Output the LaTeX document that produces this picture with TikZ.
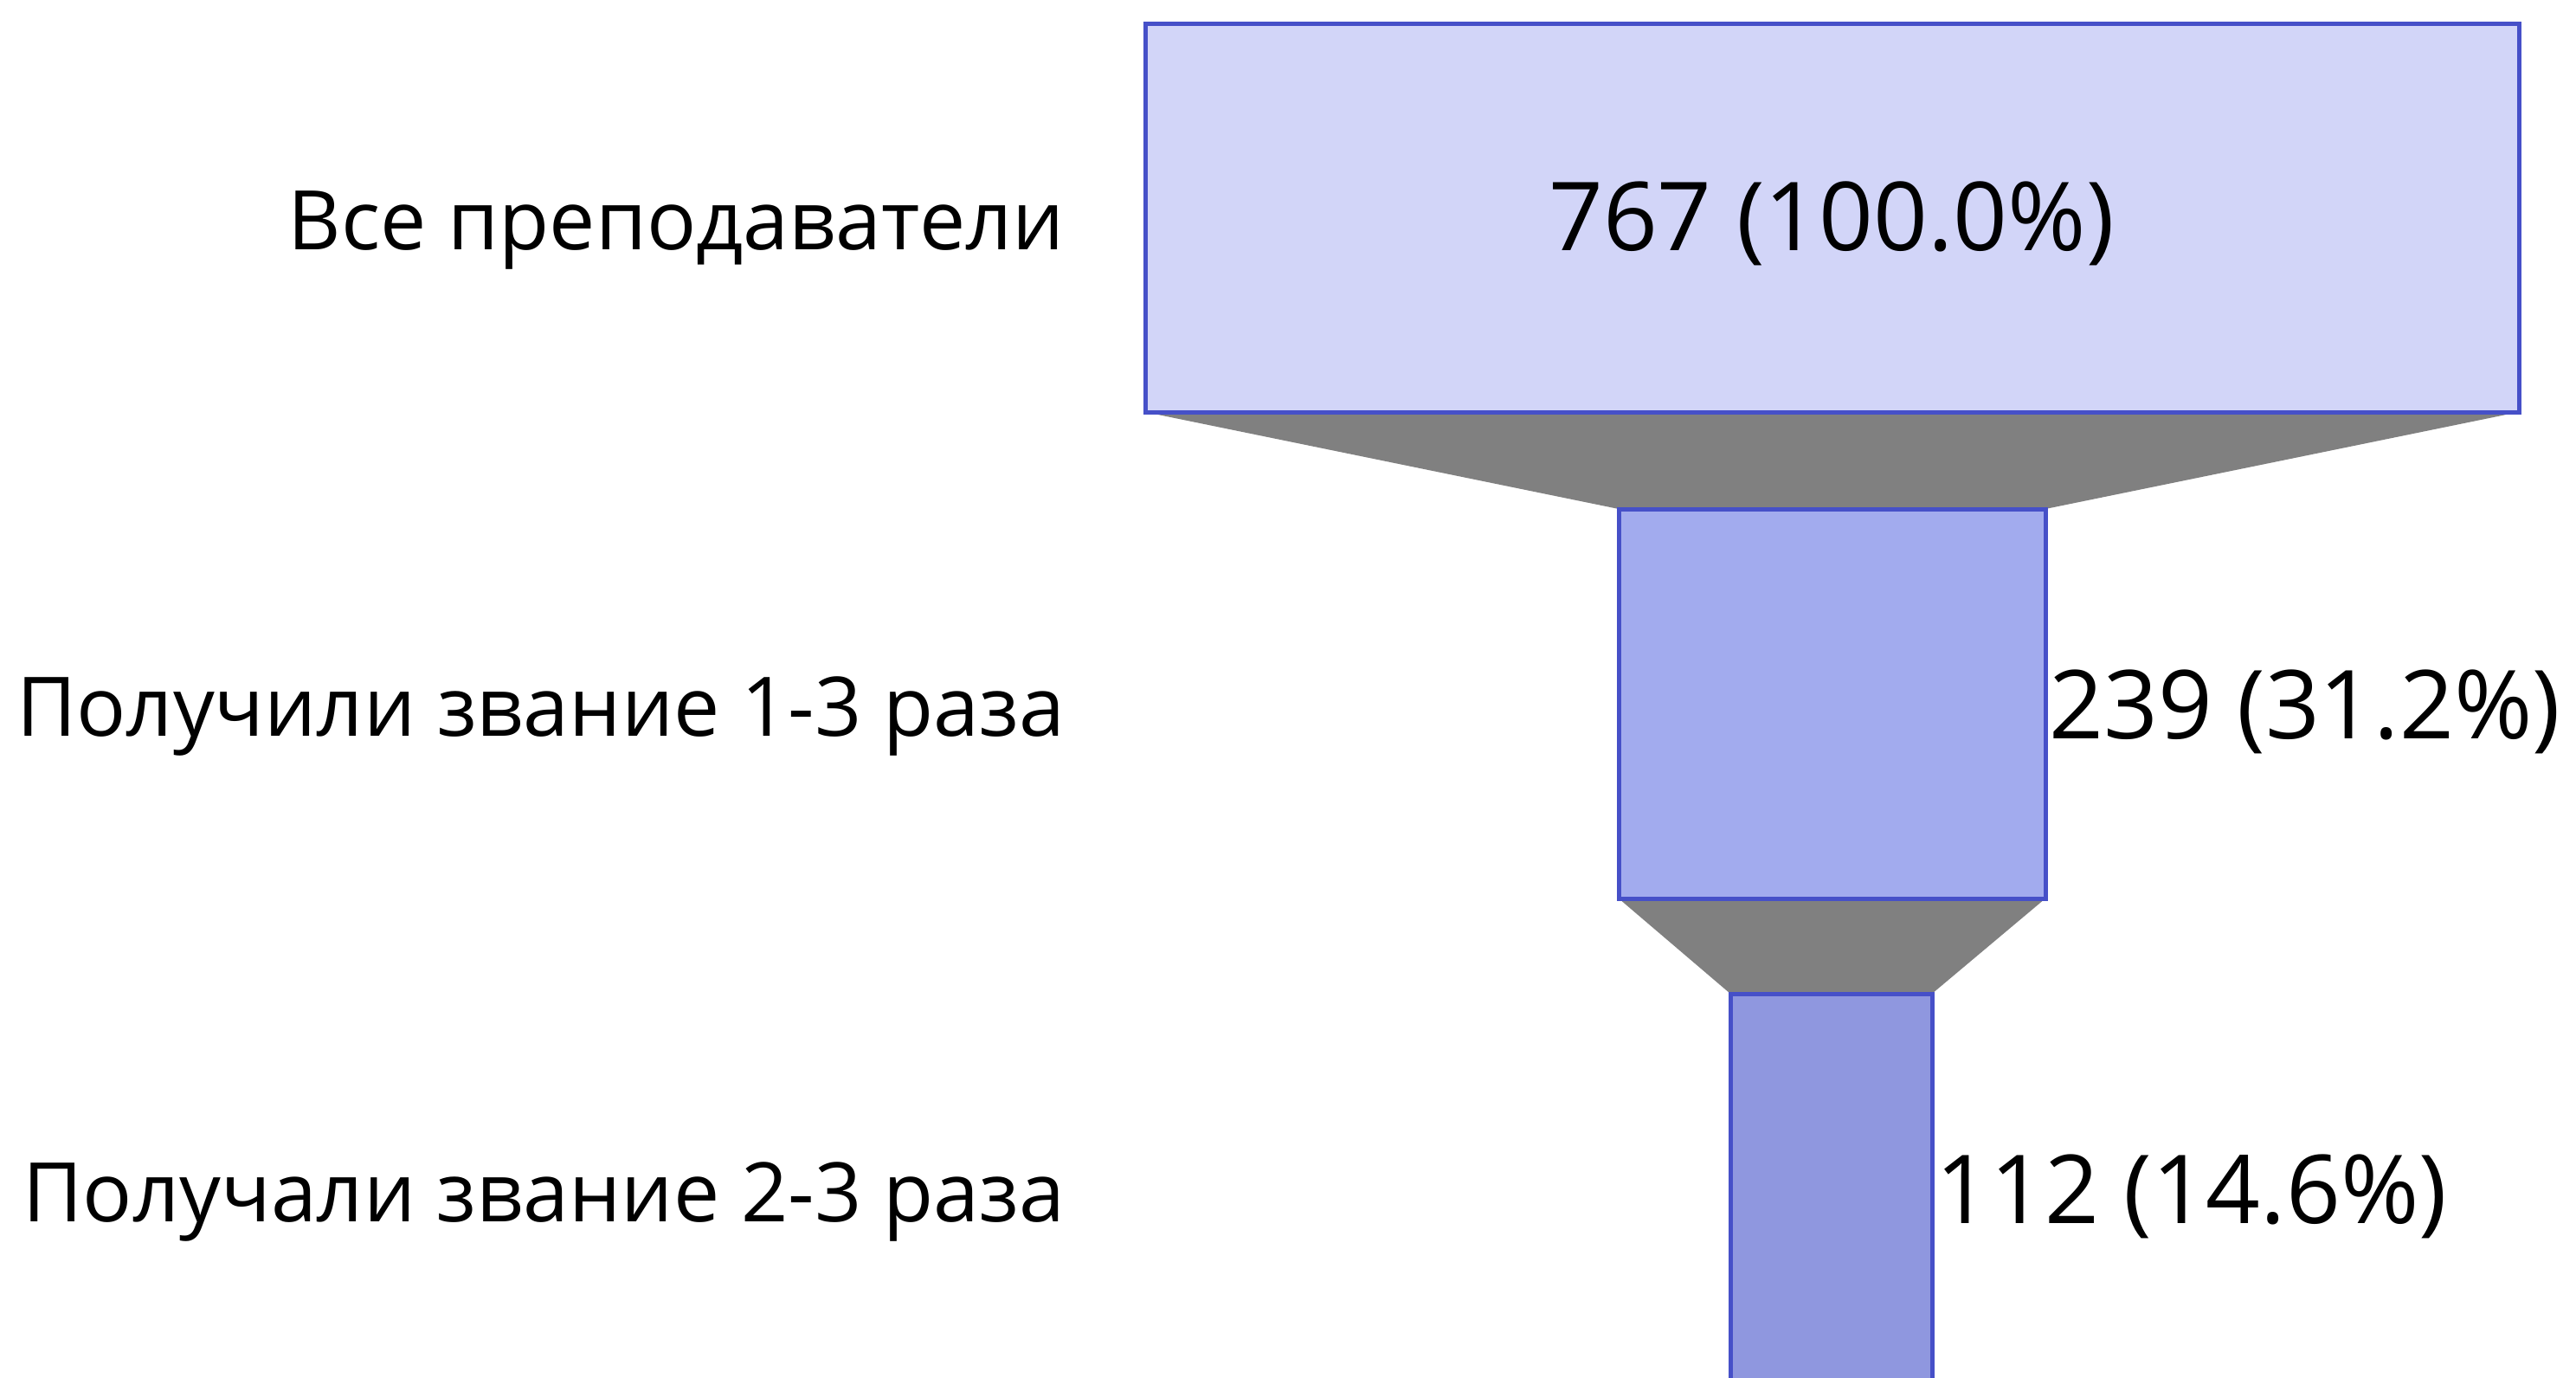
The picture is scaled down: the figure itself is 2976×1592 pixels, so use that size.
\documentclass[tikz,border=0pt]{standalone}
\usepackage{fontspec}
\setmainfont{Open Sans}
\definecolor{bA}{HTML}{D2D5F8}
\definecolor{bB}{HTML}{A2ABEE}
\definecolor{bC}{HTML}{8F97DF}
\definecolor{edge}{HTML}{4650C8}
\definecolor{neck}{HTML}{808080}
\begin{document}
\begin{tikzpicture}[x=1pt,y=-1pt,
  stage/.style={draw=edge,line width=5pt},
  lab/.style={anchor=east,inner sep=0pt,font=\fontsize{95}{110}\selectfont},
  val/.style={inner sep=0pt,font=\fontsize{110}{130}\selectfont}]
\useasboundingbox (0,0) rectangle (2976,1592);
\fill[neck] (1323,476) -- (2910,476) -- (2363,588) -- (1870,588) -- cycle;
\fill[neck] (1870,1038) -- (2363,1038) -- (2232,1148) -- (1999,1148) -- cycle;
\draw[stage,fill=bA] (1323,28) rectangle (2910,476);
\draw[stage,fill=bB] (1870,588) rectangle (2363,1038);
\draw[stage,fill=bC] (1999,1148) rectangle (2232,1620);
\node[val] (v1) at (2116,258) {767 (100.0\%)};
\node[val,anchor=west] (v2) at (2367,822) {239 (31.2\%)};
\node[val,anchor=west] (v3) at (2236,1382) {112 (14.6\%)};
\node[lab] (l1) at (1230,266) {Все преподаватели};
\node[lab] (l2) at (1230,828) {Получили звание 1-3 раза};
\node[lab] (l3) at (1230,1388) {Получали звание 2-3 раза};
\end{tikzpicture}
\end{document}
